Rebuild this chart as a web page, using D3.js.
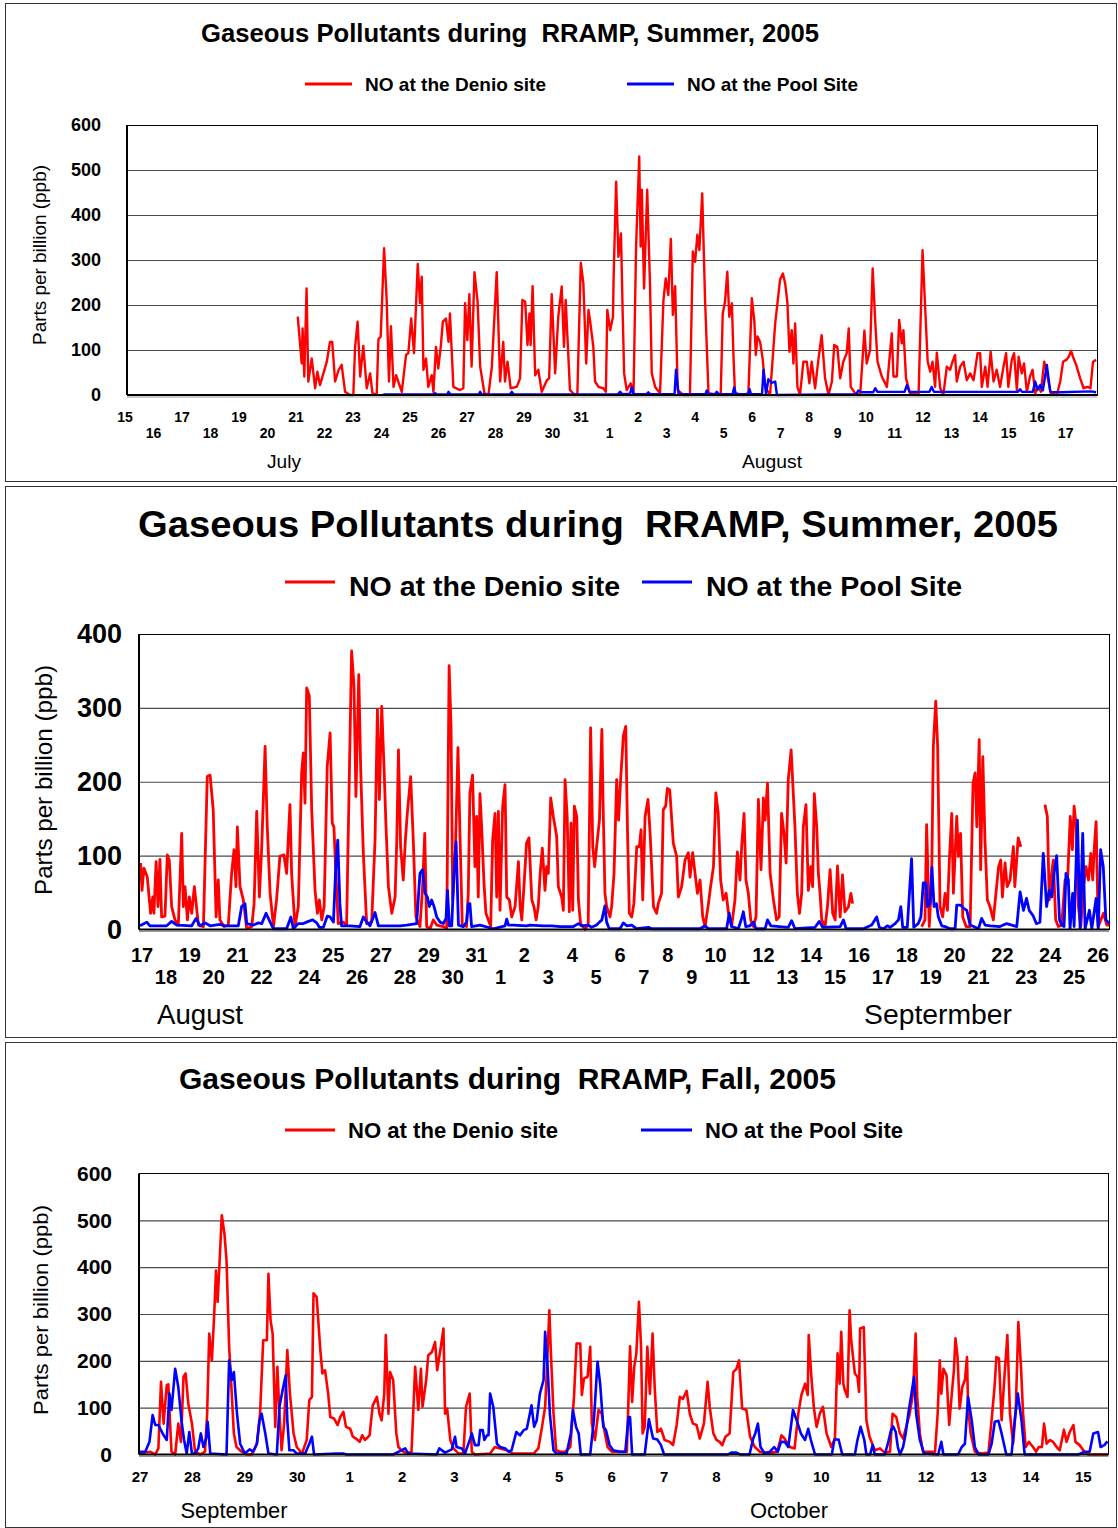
<!DOCTYPE html>
<html>
<head>
<meta charset="utf-8">
<script src="https://cdn.jsdelivr.net/npm/d3@7"></script>
<style>
body { margin: 0; background: #fff; }
svg { display: block; font-family: "Liberation Sans", Arial, sans-serif; }
</style>
</head>
<body>
<svg id="chart" width="1118" height="1528"></svg>
<script>
// ---- data: [day offset from first axis day, NO in ppb] ----
// Summer 1: day 0 = July 15
var julDenio = [[6.06,174],[6.20,70],[6.23,148],[6.29,41],[6.37,237],[6.43,30],[6.55,81],[6.67,15],[6.75,52],[6.84,22],[6.96,48],[7.08,74],[7.19,118],[7.27,118],[7.37,30],[7.49,55],[7.60,67],[7.72,7],[7.89,0],[8.01,0],[8.07,104],[8.16,163],[8.25,41],[8.36,109],[8.48,15],[8.60,48],[8.68,4],[8.83,0],[8.89,124],[8.97,130],[9.09,326],[9.18,211],[9.26,30],[9.33,153],[9.42,18],[9.51,44],[9.71,7],[9.86,89],[9.94,93],[10.04,170],[10.14,93],[10.27,291],[10.35,204],[10.41,263],[10.47,56],[10.56,81],[10.64,18],[10.76,44],[10.82,7],[10.91,107],[10.99,59],[11.08,109],[11.15,163],[11.26,170],[11.35,118],[11.40,181],[11.52,18],[11.75,11],[11.87,15],[11.93,204],[12.01,122],[12.08,224],[12.16,63],[12.26,273],[12.37,207],[12.46,63],[12.61,4],[12.75,0],[12.87,63],[13.04,273],[13.16,30],[13.27,118],[13.33,30],[13.42,74],[13.53,15],[13.74,18],[13.86,37],[13.94,211],[14.04,207],[14.12,111],[14.19,181],[14.23,111],[14.30,242],[14.39,44],[14.50,56],[14.62,7],[14.80,33],[14.88,37],[14.97,224],[15.09,48],[15.20,174],[15.32,241],[15.40,107],[15.46,211],[15.61,11],[15.79,0],[15.87,4],[15.99,294],[16.08,248],[16.18,70],[16.26,189],[16.32,163],[16.43,107],[16.49,30],[16.61,18],[16.78,15],[16.87,7],[16.92,189],
  [17.02,144],[17.12,174],[17.14,256],[17.23,474],[17.31,307],[17.40,359],[17.46,181],[17.51,48],[17.60,11],[17.74,26],[17.84,4],[17.93,330],[18.04,530],[18.09,330],[18.13,456],[18.21,237],[18.32,456],[18.42,241],[18.48,48],[18.60,18],[18.77,4],[18.89,211],[18.97,259],[19.06,222],[19.15,347],[19.22,178],[19.30,242],[19.39,11],[19.59,0],[19.82,0],[19.92,319],[20.00,296],[20.08,356],[20.15,322],[20.25,448],[20.35,211],[20.47,4],[20.82,0],[20.90,4],[20.97,181],[21.05,207],[21.13,274],[21.20,174],[21.29,204],[21.35,81],[21.40,4],[21.70,0],[21.87,4],[21.99,215],[22.08,163],[22.13,89],[22.19,130],[22.28,118],[22.37,81],[22.46,18],[22.63,0],[22.81,159],[22.89,204],[22.98,256],[23.08,270],[23.16,248],[23.24,204],[23.31,96],[23.39,144],[23.45,70],[23.51,159],[23.59,18],[23.68,0],[23.80,74],[23.92,74],[24.01,26],[24.09,74],[24.21,15],[24.33,81],[24.44,133],[24.56,37],[24.68,0],[24.80,30],[24.88,111],[24.99,107],[25.09,37],[25.20,74],[25.32,93],[25.39,148],[25.46,18],[25.61,4],[25.79,0],[25.87,74],[25.94,143],[26.02,70],[26.14,100],[26.23,281],[26.32,163],[26.40,74],[26.55,41],[26.73,18],[26.90,137],[26.96,41],[27.08,41],[27.16,167],[27.25,115],[27.31,144],[27.40,37],[27.54,4],[27.84,0],[27.98,322],[28.07,196],[28.16,74],[28.25,52],[28.33,74],[28.42,18],[28.48,94],[28.60,15],[28.71,0],[28.83,63],[28.95,56],[29.01,70],[29.12,89],[29.18,30],[29.30,63],[29.42,74],[29.53,33],[29.65,48],[29.77,33],[29.91,93],[30.00,93],[30.06,18],[30.18,63],[30.26,18],[30.37,96],[30.47,30],[30.58,56],[30.70,18],[30.82,63],[30.91,93],[30.99,18],[31.11,78],[31.19,93],[31.29,11],[31.35,85],[31.46,48],[31.54,70],[31.64,7],[31.75,41],[31.84,56],[31.93,4],[32.05,18],[32.13,7],[32.25,74],[32.34,48],[32.48,4],[32.69,0],[32.81,30],[32.91,74],[33.02,78],[33.11,85],[33.19,98],[33.28,81],[33.37,67],[33.51,37],[33.63,15],[33.77,18],[33.87,15],[33.96,74],[34.07,78]];
var julPool = [[9.06,1],[10.80,1],[10.88,4],[10.95,1],[11.30,1],[11.35,7],[11.42,1],[12.40,1],[12.46,7],[12.52,1],[13.50,1],[13.57,7],[13.64,1],[17.30,2],[17.37,7],[17.45,2],[17.72,3],[17.78,18],[17.84,2],[18.30,2],[18.36,6],[18.42,2],[19.28,2],[19.33,56],[19.42,2],[20.36,2],[20.41,10],[20.46,2],[20.70,2],[20.76,7],[20.82,2],[21.32,2],[21.37,17],[21.43,2],[21.86,2],[21.91,13],[21.96,2],[22.35,2],[22.40,56],[22.49,2],[22.57,35],[22.69,27],[22.81,30],[22.87,0],[25.65,2],[25.73,10],[25.85,6],[26.25,6],[26.32,15],[26.40,7],[27.35,7],[27.43,22],[27.52,7],[28.22,7],[28.30,18],[28.38,7],[31.33,7],[31.40,13],[31.47,7],[31.85,7],[31.93,30],[32.02,12],[32.11,22],[32.20,10],[32.34,67],[32.46,7],[32.80,6],[33.90,8],[34.07,6]];

// Summer 2: day 0 = August 17 (null = no data)
var augDenio = [[-0.06,90],[0.00,53],[0.08,83],[0.22,71],[0.36,22],[0.45,44],[0.50,22],[0.59,92],[0.67,31],[0.75,95],[0.82,17],[0.96,18],[1.06,101],[1.14,94],[1.24,31],[1.38,13],[1.52,6],[1.66,130],[1.73,31],[1.80,58],[1.90,13],[1.98,44],[2.08,22],[2.19,58],[2.36,6],[2.57,4],[2.73,207],[2.85,209],[2.98,162],[3.10,17],[3.19,67],[3.26,13],[3.43,4],[3.61,6],[3.75,76],[3.85,108],[3.93,58],[3.99,139],[4.10,58],[4.24,40],[4.38,1],[4.59,4],[4.69,35],[4.80,160],[4.91,44],[5.01,112],[5.15,248],[5.24,139],[5.36,49],[5.50,4],[5.63,40],[5.77,99],[5.94,101],[6.05,76],[6.19,169],[6.26,76],[6.40,4],[6.54,31],[6.68,212],[6.75,239],[6.82,171],[6.89,327],[7.00,316],[7.10,162],[7.24,53],[7.34,22],[7.42,40],[7.52,13],[7.62,31],[7.75,221],[7.87,266],[7.96,144],[8.03,139],[8.08,99],[8.21,8],[8.42,10],[8.56,6],[8.77,377],[8.87,329],[8.95,180],[9.07,345],[9.15,216],[9.26,103],[9.40,8],[9.61,10],[9.75,121],[9.85,298],[9.93,176],[10.03,302],[10.13,216],[10.21,139],[10.31,58],[10.45,22],[10.59,44],[10.66,121],[10.73,243],[10.82,112],[10.93,67],[11.02,121],[11.10,157],[11.24,207],[11.35,121],[11.46,17],[11.63,4],[11.74,58],[11.83,130],[11.91,4],[12.05,1],[12.19,13],[12.33,6],[12.61,4],[12.75,1],[12.85,357],[12.93,275],[13.00,40],[13.11,103],[13.22,246],[13.31,121],[13.40,6],[13.58,4],[13.65,49],[13.72,185],[13.83,209],[13.93,85],[14.00,153],[14.07,44],[14.14,184],[14.21,139],[14.31,62],[14.39,22],[14.49,13],[14.59,4],[14.67,121],[14.77,157],[14.84,44],[14.91,160],[14.98,26],[15.09,167],[15.19,196],[15.26,44],[15.37,40],[15.47,17],[15.61,31],[15.75,92],[15.82,31],[15.89,13],[15.98,58],[16.09,117],[16.19,124],[16.31,40],[16.40,31],[16.49,13],[16.58,31],[16.66,76],[16.75,110],[16.86,53],[16.93,85],[17.00,76],[17.10,178],[17.21,153],[17.35,126],[17.42,58],[17.56,44],[17.63,26],[17.70,203],[17.79,153],[17.88,24],[17.95,144],[18.02,26],[18.09,167],[18.19,153],[18.26,40],[18.35,8],[18.54,0],[18.67,8],[18.77,273],[18.86,112],[18.94,85],[19.02,112],[19.14,148],[19.24,271],[19.30,157],[19.37,49],[19.44,31],[19.58,17],[19.65,31],[19.75,76],[19.86,203],[19.94,148],[20.03,205],[20.14,262],[20.24,275],[20.31,139],[20.39,22],[20.49,17],[20.58,35],[20.70,112],[20.81,112],[20.88,135],[20.95,40],[21.05,153],[21.17,176],[21.26,130],[21.40,31],[21.53,22],[21.60,35],[21.74,49],[21.81,162],[21.91,167],[21.98,191],[22.08,189],[22.23,117],[22.37,99],[22.44,44],[22.58,58],[22.72,94],[22.86,104],[22.93,71],[23.04,104],[23.14,76],[23.24,49],[23.35,67],[23.46,17],[23.56,4],[23.70,35],[23.79,58],[23.91,85],[24.01,185],[24.11,157],[24.21,67],[24.32,40],[24.44,49],[24.54,22],[24.67,4],[24.81,40],[24.91,105],[25.02,67],[25.09,112],[25.19,157],[25.27,67],[25.37,49],[25.47,13],[25.58,4],[25.69,17],[25.79,176],[25.90,81],[26.00,178],[26.07,148],[26.17,198],[26.28,76],[26.42,40],[26.55,13],[26.66,17],[26.76,157],[26.86,130],[26.95,90],[27.04,203],[27.16,243],[27.32,139],[27.42,49],[27.51,22],[27.60,49],[27.67,139],[27.78,169],[27.88,53],[27.98,85],[28.06,58],[28.13,184],[28.23,139],[28.30,76],[28.37,49],[28.44,13],[28.58,4],[28.68,31],[28.79,81],[28.90,22],[29.00,13],[29.10,86],[29.21,17],[29.31,74],[29.41,24],[29.56,31],[29.66,49],[29.73,35],[29.80,null],
  [32.62,4],[32.76,13],[32.83,142],[32.94,4],[33.04,67],[33.11,248],[33.21,309],[33.29,248],[33.39,31],[33.50,17],[33.60,49],[33.70,26],[33.78,94],[33.88,157],[33.95,49],[34.09,153],[34.16,99],[34.25,130],[34.34,17],[34.48,4],[34.65,4],[34.77,198],[34.86,212],[34.93,139],[35.03,257],[35.09,81],[35.18,234],[35.27,121],[35.37,40],[35.48,31],[35.62,13],[35.73,49],[35.84,85],[35.93,94],[36.00,44],[36.11,90],[36.20,58],[36.32,67],[36.46,112],[36.52,58],[36.66,124],[36.77,112],[36.80,null],
  [37.78,169],[37.88,153],[37.96,40],[38.06,76],[38.13,94],[38.23,13],[38.34,4],[38.48,6],[38.62,67],[38.72,62],[38.84,153],[38.93,108],[39.00,167],[39.09,139],[39.18,31],[39.28,4],[39.39,58],[39.50,85],[39.60,67],[39.70,103],[39.78,67],[39.84,108],[39.92,146],[40.01,4],[40.23,22],[40.37,6],[40.48,6]];
var augPool = [[-0.08,5],[0.20,10],[0.33,5],[1.03,5],[1.24,11],[1.45,6],[2.08,5],[2.26,15],[2.43,5],[2.64,9],[2.85,5],[3.26,7],[3.47,5],[4.03,5],[4.17,31],[4.31,35],[4.38,8],[4.66,6],[4.87,9],[5.01,8],[5.19,22],[5.36,10],[5.50,1],[6.05,1],[6.23,17],[6.33,1],[6.54,8],[6.75,8],[6.96,11],[7.14,13],[7.31,9],[7.42,3],[7.59,3],[7.75,18],[7.87,17],[8.01,10],[8.12,94],[8.19,121],[8.28,35],[8.35,5],[8.70,5],[9.12,4],[9.26,17],[9.40,10],[9.54,5],[9.75,23],[9.89,5],[10.80,5],[11.07,6],[11.49,8],[11.63,76],[11.74,81],[11.84,49],[11.94,44],[12.02,31],[12.12,40],[12.22,31],[12.33,17],[12.47,10],[12.61,8],[12.72,15],[12.78,53],[12.86,5],[12.96,5],[13.05,76],[13.14,119],[13.24,6],[13.44,4],[13.58,10],[13.65,35],[13.72,35],[13.79,4],[14.14,6],[14.70,1],[15.19,5],[15.26,14],[15.33,6],[15.54,6],[16.09,5],[16.23,6],[16.79,5],[17.14,5],[17.49,4],[18.05,4],[18.26,8],[18.40,5],[18.67,6],[18.81,3],[19.02,6],[19.14,10],[19.24,13],[19.37,32],[19.44,10],[19.55,1],[20.00,1],[20.14,9],[20.28,5],[20.49,6],[20.70,1],[21.19,3],[21.33,1],[22.23,1],[23.35,1],[23.56,5],[23.70,1],[24.46,1],[24.57,22],[24.67,4],[24.95,1],[25.09,15],[25.16,24],[25.26,4],[25.44,5],[25.58,10],[25.69,1],[26.07,1],[26.17,13],[26.31,5],[27.04,3],[27.18,12],[27.32,1],[28.16,3],[28.34,11],[28.48,3],[29.21,4],[29.35,13],[29.46,1],[30.18,1],[30.53,6],[30.74,17],[30.85,3],[31.02,1],[31.18,5],[31.30,3],[31.51,8],[31.65,13],[31.75,31],[31.83,3],[32.02,3],[32.20,96],[32.29,3],[32.48,8],[32.59,17],[32.69,63],[32.80,63],[32.86,31],[32.97,35],[33.05,84],[33.14,31],[33.24,35],[33.32,17],[33.46,5],[33.60,4],[33.81,1],[34.02,1],[34.09,33],[34.26,33],[34.37,29],[34.51,26],[34.65,6],[34.79,4],[35.00,1],[35.13,15],[35.28,6],[35.49,5],[35.90,4],[36.18,8],[36.39,6],[36.60,4],[36.74,51],[36.88,26],[37.01,42],[37.12,26],[37.28,19],[37.42,8],[37.57,10],[37.71,103],[37.85,31],[37.96,53],[38.06,44],[38.16,76],[38.27,100],[38.39,13],[38.48,6],[38.58,4],[38.66,76],[38.76,67],[38.83,1],[38.94,49],[39.00,4],[39.14,148],[39.25,1],[39.36,130],[39.46,1],[39.64,26],[39.74,1],[39.92,42],[40.01,1],[40.11,108],[40.22,85],[40.33,13],[40.48,8]];

// Fall: day 0 = September 27
var sepDenio = [[0.00,2],[0.19,6],[0.29,0],[0.35,13],[0.40,155],[0.45,66],[0.51,148],[0.54,150],[0.57,73],[0.60,6],[0.67,0],[0.73,66],[0.78,27],[0.83,166],[0.87,173],[0.92,109],[0.99,66],[1.05,6],[1.15,0],[1.24,6],[1.28,87],[1.32,258],[1.37,201],[1.41,287],[1.45,393],[1.48,326],[1.51,393],[1.56,511],[1.61,472],[1.65,415],[1.70,230],[1.75,130],[1.79,45],[1.84,16],[1.94,6],[2.04,0],[2.13,0],[2.23,23],[2.29,87],[2.35,244],[2.42,244],[2.45,386],[2.49,287],[2.53,258],[2.58,59],[2.62,187],[2.66,87],[2.70,9],[2.75,66],[2.81,223],[2.86,130],[2.93,45],[2.99,16],[3.09,2],[3.18,31],[3.23,116],[3.28,123],[3.31,344],[3.37,336],[3.44,223],[3.48,173],[3.53,180],[3.59,130],[3.63,80],[3.70,77],[3.77,63],[3.82,80],[3.88,91],[3.93,59],[4.01,55],[4.06,38],[4.12,34],[4.19,27],[4.24,41],[4.29,31],[4.38,41],[4.44,105],[4.52,123],[4.57,87],[4.61,73],[4.66,130],[4.69,255],[4.74,87],[4.77,176],[4.83,159],[4.89,45],[4.93,16],[4.99,9],[5.09,2],[5.18,6],[5.25,187],[5.31,95],[5.36,183],[5.39,102],[5.46,159],[5.50,212],[5.57,219],[5.63,240],[5.67,180],[5.74,230],[5.79,269],[5.82,87],[5.86,98],[5.92,31],[5.98,13],[6.08,2],[6.17,2],[6.22,102],[6.29,130],[6.33,6],[6.39,0],[6.68,2],[6.77,16],[6.87,13],[7.00,9],[7.12,2],[7.51,2],[7.60,13],[7.67,59],[7.73,102],[7.76,173],[7.81,308],[7.84,216],[7.89,87],[7.94,9],[8.02,6],[8.11,6],[8.21,16],[8.28,123],[8.33,237],[8.40,237],[8.43,127],[8.47,162],[8.54,166],[8.59,230],[8.62,66],[8.68,31],[8.75,95],[8.81,87],[8.86,52],[8.92,16],[9.00,6],[9.16,6],[9.29,6],[9.35,231],[9.39,112],[9.43,187],[9.47,216],[9.52,326],[9.56,230],[9.59,45],[9.63,59],[9.68,230],[9.73,130],[9.78,258],[9.82,144],[9.87,48],[9.94,55],[10.01,31],[10.11,27],[10.17,20],[10.24,63],[10.30,123],[10.36,119],[10.43,136],[10.49,87],[10.55,66],[10.62,63],[10.68,34],[10.76,66],[10.83,155],[10.87,102],[10.94,45],[11.00,31],[11.06,27],[11.11,20],[11.17,38],[11.25,45],[11.32,176],[11.38,183],[11.43,201],[11.49,98],[11.57,95],[11.64,38],[11.73,16],[11.83,6],[11.92,4],[12.05,4],[12.16,6],[12.24,41],[12.30,34],[12.40,16],[12.49,13],[12.56,87],[12.62,127],[12.69,151],[12.74,127],[12.76,255],[12.81,166],[12.86,98],[12.91,59],[12.97,87],[13.03,102],[13.10,45],[13.19,16],[13.26,34],[13.31,216],[13.35,151],[13.38,262],[13.42,151],[13.45,137],[13.50,123],[13.54,308],[13.57,244],[13.64,173],[13.69,166],[13.72,134],[13.74,269],[13.81,272],[13.86,73],[13.92,38],[14.02,9],[14.12,13],[14.21,4],[14.31,6],[14.36,87],[14.43,80],[14.50,45],[14.56,34],[14.62,59],[14.68,84],[14.75,130],[14.80,258],[14.83,123],[14.88,45],[14.94,6],[15.07,6],[15.17,6],[15.22,87],[15.26,201],[15.29,130],[15.33,183],[15.39,169],[15.44,63],[15.49,130],[15.53,180],[15.56,248],[15.60,208],[15.64,98],[15.69,144],[15.74,159],[15.78,208],[15.80,102],[15.85,45],[15.93,6],[16.06,2],[16.19,4],[16.26,87],[16.31,151],[16.34,208],[16.39,205],[16.44,73],[16.49,159],[16.55,255],[16.60,87],[16.66,23],[16.71,95],[16.76,283],[16.81,187],[16.85,87],[16.90,16],[16.96,27],[17.04,16],[17.10,6],[17.15,16],[17.21,16],[17.25,66],[17.30,23],[17.36,31],[17.42,27],[17.49,16],[17.55,9],[17.63,53],[17.68,27],[17.74,48],[17.81,63],[17.85,27],[17.93,20],[18.02,6],[18.09,0],[18.47,0]];
var sepPool = [[0.00,6],[0.10,6],[0.18,27],[0.24,84],[0.29,63],[0.35,63],[0.45,41],[0.51,31],[0.56,130],[0.60,95],[0.67,183],[0.73,144],[0.79,73],[0.84,31],[0.89,2],[0.94,48],[0.99,2],[1.05,2],[1.11,13],[1.16,45],[1.21,16],[1.26,34],[1.29,70],[1.34,2],[1.65,0],[1.70,201],[1.75,159],[1.79,176],[1.85,87],[1.91,23],[2.00,2],[2.09,11],[2.16,6],[2.23,23],[2.28,73],[2.32,87],[2.39,45],[2.45,2],[2.61,0],[2.66,102],[2.72,137],[2.78,169],[2.81,73],[2.85,9],[2.93,9],[2.99,2],[3.15,2],[3.23,23],[3.28,38],[3.32,0],[3.75,2],[3.88,2],[3.94,0],[4.83,0],[4.90,4],[5.06,13],[5.12,2],[5.66,0],[5.71,13],[5.82,4],[5.95,11],[6.01,38],[6.04,16],[6.14,13],[6.20,2],[6.30,34],[6.33,45],[6.39,20],[6.46,20],[6.49,52],[6.54,52],[6.57,31],[6.62,41],[6.65,41],[6.68,130],[6.74,102],[6.81,23],[6.87,16],[6.97,13],[7.03,6],[7.09,9],[7.18,48],[7.25,41],[7.32,52],[7.38,55],[7.42,77],[7.47,105],[7.52,59],[7.57,73],[7.63,130],[7.70,159],[7.73,262],[7.78,180],[7.82,87],[7.89,9],[7.95,2],[8.14,2],[8.22,45],[8.26,95],[8.32,59],[8.37,45],[8.41,0],[8.59,0],[8.66,73],[8.73,198],[8.78,151],[8.84,59],[8.89,52],[8.96,20],[9.03,9],[9.16,6],[9.26,6],[9.32,80],[9.35,80],[9.39,0],[9.63,0],[9.71,75],[9.79,34],[9.87,32],[9.94,20],[10.00,0],[11.22,0],[11.28,4],[11.38,4],[11.45,0],[11.63,0],[11.70,34],[11.74,45],[11.79,66],[11.84,16],[11.92,2],[12.02,6],[12.10,16],[12.17,6],[12.23,27],[12.30,27],[12.37,16],[12.46,95],[12.53,73],[12.61,45],[12.69,31],[12.75,55],[12.80,31],[12.88,0],[13.20,0],[13.25,32],[13.33,32],[13.40,0],[13.64,0],[13.69,31],[13.75,59],[13.82,31],[13.86,0],[13.93,0],[13.98,20],[14.02,0],[14.21,0],[14.27,23],[14.33,52],[14.37,60],[14.42,48],[14.46,16],[14.50,0],[14.56,16],[14.61,45],[14.66,87],[14.72,130],[14.77,166],[14.81,87],[14.88,31],[14.96,2],[15.23,0],[15.29,27],[15.33,0],[15.61,0],[15.68,16],[15.74,23],[15.80,123],[15.87,73],[15.93,16],[16.00,0],[16.19,0],[16.25,23],[16.31,70],[16.38,72],[16.44,45],[16.53,0],[16.63,0],[16.69,73],[16.75,130],[16.82,73],[16.88,0],[17.90,0],[18.03,6],[18.12,6],[18.19,45],[18.28,48],[18.33,16],[18.40,20],[18.46,28]];

// ---- tick labels ----
var julDays = [15,16,17,18,19,20,21,22,23,24,25,26,27,28,29,30,31,1,2,3,4,5,6,7,8,9,10,11,12,13,14,15,16,17];
var augDays = [17,18,19,20,21,22,23,24,25,26,27,28,29,30,31,1,2,3,4,5,6,7,8,9,10,11,12,13,14,15,16,17,18,19,20,21,22,23,24,25,26];
var sepDays = [27,28,29,30,1,2,3,4,5,6,7,8,9,10,11,12,13,14,15];
var julYTicks = [0,100,200,300,400,500,600];
var augYTicks = [0,100,200,300,400];
var sepYTicks = [0,100,200,300,400,500,600];

var seriesNames = ["NO at the Denio site", "NO at the Pool Site"];
var yTitle = "Parts per billion (ppb)";

var svg = d3.select("#chart");

var drawPanel = function(p) {
  var g = svg.append("g");

  // outer frame
  g.append("rect")
    .attr("x", p.frame[0] + 0.5).attr("y", p.frame[1] + 0.5)
    .attr("width", p.frame[2]).attr("height", p.frame[3])
    .attr("fill", "none").attr("stroke", "#333").attr("stroke-width", 1);

  var x = d3.scaleLinear().domain(p.xDomain).range([p.left, p.right]);
  var y = d3.scaleLinear().domain([0, d3.max(p.yTicks)]).range([p.bottom, p.top]);

  // gridlines
  g.append("g")
    .attr("transform", "translate(" + p.left + ",0)")
    .call(d3.axisLeft(y).tickValues(p.yTicks.slice(1, -1)).tickSize(-(p.right - p.left)).tickFormat(""))
    .call(function(a) {
      a.select(".domain").remove();
      a.selectAll("line").attr("stroke", "#4a4a4a").attr("stroke-width", 1.2);
    });

  // plot border
  g.append("rect")
    .attr("x", p.left).attr("y", p.top)
    .attr("width", p.right - p.left).attr("height", p.bottom - p.top)
    .attr("fill", "none").attr("stroke", "#000").attr("stroke-width", 1)
    .attr("shape-rendering", "crispEdges");

  // y axis labels
  g.append("g")
    .attr("transform", "translate(" + p.left + ",0)")
    .call(d3.axisLeft(y).tickValues(p.yTicks).tickSize(0).tickPadding(p.yPad))
    .call(function(a) {
      a.select(".domain").remove();
      a.selectAll("text")
        .attr("font-family", "Liberation Sans, Arial, sans-serif")
        .attr("font-size", p.yFont).attr("font-weight", "bold").attr("fill", "#000");
    });

  // data lines
  var line = d3.line()
    .defined(function(d) { return d[1] !== null; })
    .x(function(d) { return x(d[0]); })
    .y(function(d) { return y(d[1]); });

  g.append("path")
    .datum(p.red)
    .attr("fill", "none").attr("stroke", "#ff0000")
    .attr("stroke-width", p.lineW).attr("stroke-linejoin", "round")
    .attr("d", line);
  g.append("path")
    .datum(p.blue)
    .attr("fill", "none").attr("stroke", "#0000ff")
    .attr("stroke-width", p.lineW).attr("stroke-linejoin", "round")
    .attr("d", line);

  // thick left + bottom axes
  g.append("line")
    .attr("x1", p.left).attr("x2", p.right).attr("y1", p.bottom).attr("y2", p.bottom)
    .attr("stroke", "#000").attr("stroke-width", 2);
  g.append("line")
    .attr("x1", p.left).attr("x2", p.left).attr("y1", p.top).attr("y2", p.bottom)
    .attr("stroke", "#000").attr("stroke-width", 2);
  g.append("line")
    .attr("x1", p.left).attr("x2", p.right).attr("y1", p.bottom + 2).attr("y2", p.bottom + 2)
    .attr("stroke", "#999").attr("stroke-width", 1);

  // x tick labels (staggered when two rows)
  g.selectAll("text.xt")
    .data(p.days)
    .join("text")
      .attr("class", "xt")
      .attr("x", function(d, i) { return x(i); })
      .attr("y", function(d, i) { return p.xRows.length > 1 && i % 2 ? p.xRows[1] : p.xRows[0]; })
      .attr("text-anchor", "middle")
      .attr("font-size", p.xFont).attr("font-weight", "bold")
      .text(function(d) { return d; });

  // month labels
  p.months.forEach(function(m) {
    g.append("text")
      .attr("x", m.x).attr("y", p.monthY)
      .attr("text-anchor", "middle")
      .attr("font-size", p.monthFont)
      .attr("textLength", m.w).attr("lengthAdjust", "spacingAndGlyphs")
      .text(m.text);
  });

  // title
  g.append("text")
    .attr("x", p.title.x).attr("y", p.title.y)
    .attr("font-size", p.title.size).attr("font-weight", "bold")
    .attr("textLength", p.title.w).attr("lengthAdjust", "spacingAndGlyphs")
    .attr("xml:space", "preserve")
    .text(p.title.text);

  // legend
  var colors = ["#ff0000", "#0000ff"];
  p.legend.forEach(function(l, i) {
    g.append("line")
      .attr("x1", l.x1).attr("x2", l.x2).attr("y1", p.legendY).attr("y2", p.legendY)
      .attr("stroke", colors[i]).attr("stroke-width", 3);
    g.append("text")
      .attr("x", l.tx).attr("y", p.legendBase)
      .attr("font-size", p.legendFont).attr("font-weight", "bold")
      .attr("textLength", l.w).attr("lengthAdjust", "spacingAndGlyphs")
      .text(seriesNames[i]);
  });

  // y axis title
  g.append("text")
    .attr("transform", "translate(" + p.yTitle.x + "," + p.yTitle.y + ") rotate(-90)")
    .attr("text-anchor", "middle")
    .attr("font-size", p.yTitle.size)
    .attr("textLength", p.yTitle.w).attr("lengthAdjust", "spacingAndGlyphs")
    .text(yTitle);
};

drawPanel({
  frame: [5, 3, 1111, 478],
  left: 127, right: 1097, top: 125, bottom: 395,
  xDomain: [0.07, 34.1],
  yTicks: julYTicks, yPad: 26, yFont: 18,
  red: julDenio, blue: julPool, lineW: 2.4,
  days: julDays, xRows: [422, 438], xFont: 14,
  months: [{text: "July", x: 284, w: 34}, {text: "August", x: 772, w: 60}],
  monthY: 468, monthFont: 19,
  title: {text: "Gaseous Pollutants during  RRAMP, Summer, 2005", x: 201, y: 42, size: 25, w: 618},
  legend: [{x1: 305, x2: 352, tx: 365, w: 181}, {x1: 627, x2: 674, tx: 687, w: 171}],
  legendY: 84, legendBase: 91, legendFont: 19,
  yTitle: {x: 46, y: 255, size: 18, w: 180}
});

drawPanel({
  frame: [5, 486, 1111, 551],
  left: 139, right: 1109, top: 634, bottom: 929.5,
  xDomain: [-0.126, 40.46],
  yTicks: augYTicks, yPad: 17, yFont: 27,
  red: augDenio, blue: augPool, lineW: 2.8,
  days: augDays, xRows: [962, 984], xFont: 20,
  months: [{text: "August", x: 200, w: 86}, {text: "Septermber", x: 938, w: 148}],
  monthY: 1024, monthFont: 27,
  title: {text: "Gaseous Pollutants during  RRAMP, Summer, 2005", x: 138, y: 537, size: 36, w: 920},
  legend: [{x1: 285, x2: 335, tx: 349, w: 271}, {x1: 642, x2: 692, tx: 706, w: 256}],
  legendY: 582, legendBase: 596, legendFont: 27,
  yTitle: {x: 52, y: 780, size: 24, w: 230}
});

drawPanel({
  frame: [5, 1042, 1111, 485],
  left: 139, right: 1108.5, top: 1173.5, bottom: 1454.5,
  xDomain: [-0.02, 18.48],
  yTicks: sepYTicks, yPad: 27, yFont: 21,
  red: sepDenio, blue: sepPool, lineW: 2.6,
  days: sepDays, xRows: [1482], xFont: 15,
  months: [{text: "September", x: 234, w: 107}, {text: "October", x: 789, w: 78}],
  monthY: 1518, monthFont: 22,
  title: {text: "Gaseous Pollutants during  RRAMP, Fall, 2005", x: 179, y: 1089, size: 30, w: 657},
  legend: [{x1: 285, x2: 335, tx: 348, w: 210}, {x1: 641, x2: 692, tx: 705, w: 198}],
  legendY: 1130, legendBase: 1138, legendFont: 22,
  yTitle: {x: 48, y: 1310, size: 21, w: 210}
});
</script>
</body>
</html>
